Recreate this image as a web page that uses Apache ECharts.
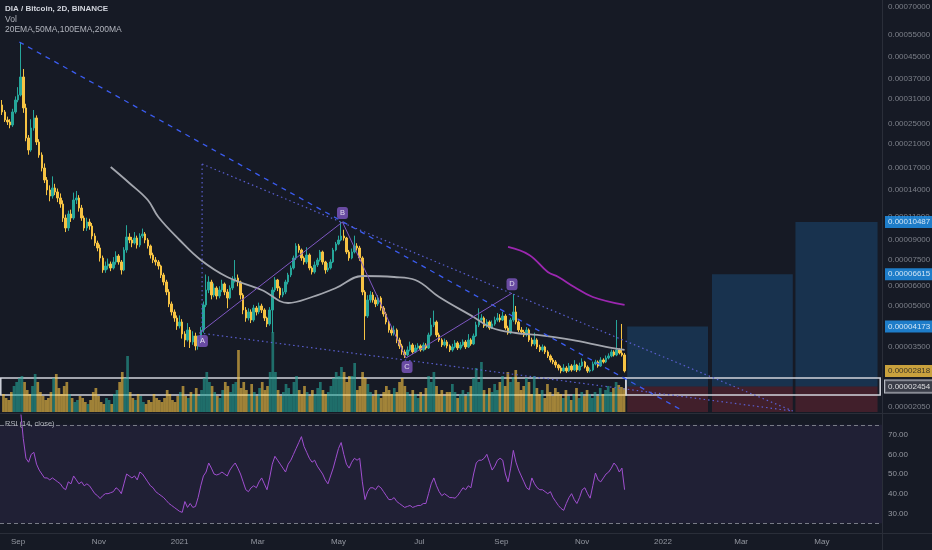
<!DOCTYPE html>
<html><head><meta charset="utf-8">
<script src="https://cdn.jsdelivr.net/npm/echarts@6/dist/echarts.min.js"></script>
<style>html,body{margin:0;padding:0;background:#161a25;}#c{width:932px;height:550px;}</style>
</head><body><div id="c"></div>
<script>
// prices in satoshi (1e-8 BTC); 2-day candles starting 2020-08-20
const startDate = '2020-08-20';
const firstOpen = 29480;
const closes = [
27710,25820,25370,24710,27710,30800,32200,37740,28710,22030,
19810,24060,26290,21260,18960,16900,15200,13920,13200,14170,
13680,12970,12300,10870,9952,11260,10870,12740,12970,11870,
10870,9952,10490,10130,9274,8717,8342,7637,6870,7117,
7244,6992,7372,7773,7372,6870,8196,9192,8951,8717,
9110,8566,9274,9440,8951,8491,7842,7503,7372,7117,
6573,6180,5657,5089,4742,4497,4191,4341,3905,3704,
4045,3639,3837,3513,3704,4045,5044,5758,6180,5510,
5860,5461,5758,6071,5657,5365,5860,6290,6402,6180,
5510,4826,4497,4742,4418,4912,4742,5000,4826,4497,
4266,4826,5758,6290,5860,5510,5657,6180,6573,6992,
7637,8491,8196,7637,7372,7842,6992,6750,7180,7503,
8053,7372,6870,6992,7372,8196,8640,8951,9274,9110,
8053,7637,8053,8491,8342,7637,5657,4577,5271,5510,
5271,5089,5365,4912,4659,4341,4045,3939,4045,3704,
3513,3332,3245,3391,3544,3332,3451,3513,3391,3544,
3451,3871,4228,4341,3871,3704,3544,3639,3513,3391,
3482,3607,3451,3544,3639,3482,3704,3576,3837,4228,
4418,4497,4191,4341,4117,4266,4418,4497,4418,4577,
4117,3939,4418,4742,4341,4045,3974,3871,4045,3704,
3576,3704,3482,3391,3482,3332,3216,3104,3050,2970,
2893,2817,2893,2817,2944,2842,2970,2842,2944,3050,
2918,2817,2842,2996,3050,2944,3104,3050,3159,3216,
3332,3245,3391,3302,3245,2818];
const highs = [
30800,28200,26600,26000,28500,31800,34500,51400,40500,29800,
22600,26000,28200,26900,21800,19400,17600,15600,14500,15700,
14700,14100,13500,12700,11200,11600,11700,13600,13800,13300,
12200,11100,10900,10800,10400,9500,8900,8600,7800,7400,
7600,7400,7700,8100,7900,7500,8400,10200,9500,9200,
9600,9300,9500,9900,9600,9100,8600,8000,7700,7500,
7200,6700,6300,5800,5200,4850,4600,4600,4450,4000,
4300,4150,4000,3950,3850,4150,5200,6600,6500,6300,
6100,5950,5950,6300,6150,5800,6000,6500,7500,6600,
6250,5600,4950,4900,4850,5050,5000,5150,5100,4900,
4550,4950,5900,6450,6350,5950,5850,6300,6700,7150,
7800,8700,8650,8300,7750,8400,7950,7100,7400,7650,
8200,8150,7450,7300,7550,8350,8800,9300,10500,9800,
9200,8200,8300,9300,8700,8500,7750,5750,5500,5700,
5650,5400,5500,5450,5000,4750,4400,4150,4200,4100,
3780,3580,3400,3500,3650,3600,3550,3600,3560,3620,
3600,3950,4500,4800,4400,3950,3760,3750,3700,3560,
3580,3700,3660,3640,3720,3700,3900,3760,3920,4350,
4900,4650,4560,4450,4400,4400,4550,4700,4650,4750,
4650,4200,4500,5560,5000,4400,4150,4050,4150,4100,
3780,3950,3760,3550,3560,3520,3380,3260,3160,3100,
3000,2950,2990,2940,3020,2990,3100,3000,3030,3150,
3080,2960,2900,3060,3110,3090,3180,3150,3230,3290,
3400,3380,4418,3440,4266,3300];
const lows = [
26990,25370,24700,24000,24300,27300,30200,31800,27500,21400,
19000,19500,23500,20700,18500,16400,14800,13300,12600,12900,
13300,12500,11900,10500,9600,9700,10500,10700,12300,11500,
10600,9700,9700,9800,9000,8500,8100,7400,6700,6700,
6900,6800,6900,7200,7200,6600,6800,8000,8700,8400,
8600,8300,8400,9100,8700,8300,7600,7300,7150,6900,
6400,6000,5500,4950,4600,4350,4050,4100,3750,3480,
3650,3450,3550,3380,3400,3600,3950,4950,5600,5300,
5400,5300,5350,5650,5500,4900,5300,5750,6150,5950,
5300,4650,4350,4400,4300,4350,4600,4650,4700,4380,
4150,4200,3950,5650,5700,5350,5400,5550,6050,6450,
6900,7500,8000,7450,7200,7250,6850,6600,6650,7050,
7400,7200,6650,6750,6900,7300,8100,8550,8850,8900,
7900,7450,7550,7950,8150,7450,5500,3704,4500,5150,
5150,4950,5000,4800,4550,4250,3950,3850,3850,3600,
3420,3250,3160,3200,3350,3280,3300,3400,3340,3350,
3400,3420,3820,4150,3800,3640,3480,3500,3440,3330,
3340,3440,3390,3400,3500,3420,3450,3520,3540,3800,
4150,4350,4120,4130,4050,4080,4200,4350,4330,4380,
4050,3880,3900,4350,4250,3970,3900,3800,3820,3640,
3500,3520,3420,3330,3340,3270,3160,3040,2990,2900,
2830,2760,2790,2770,2790,2800,2820,2790,2810,2920,
2880,2770,2780,2810,2960,2900,2920,3010,3020,3120,
3180,3200,3210,3260,3200,2780];
const volumes = [
18,14,12,20,26,30,34,36,30,22,
18,26,38,30,20,16,12,14,20,34,
38,24,18,26,30,18,14,10,12,16,
14,10,8,12,20,24,16,10,8,14,
12,8,18,22,30,40,34,56,20,14,
12,18,16,10,8,12,10,18,14,12,
10,14,22,18,12,10,16,20,26,16,
14,20,18,24,16,22,34,40,30,26,
20,16,14,22,30,26,20,28,30,62,
24,30,22,18,28,20,16,24,30,22,
26,40,80,40,22,16,20,28,24,18,
30,36,22,18,26,20,16,22,18,24,
30,22,18,20,26,34,40,36,45,40,
30,36,36,49,22,26,40,34,28,20,
16,22,18,14,20,26,22,18,24,20,
30,34,26,20,16,22,18,14,20,16,
24,36,30,40,26,18,22,16,20,20,
28,20,14,18,22,16,20,26,34,44,
30,50,22,18,24,20,28,22,30,36,
26,40,30,35,42,30,22,26,34,30,
18,36,24,18,22,14,28,20,16,24,
20,18,14,22,16,12,18,24,14,20,
16,22,18,14,20,16,24,18,22,26,
20,24,30,27,25,24];
const rsi = [
null,null,null,null,null,null,null,82,68,58,
56,60,61,55,52,50,48,48,47,48,
47,46,45,43,42,46,45,49,47,45,
46,44,45,44,42,40,39,37.5,39,40,
40,40.5,41,43,42,40,45,50,49,48,
49,47,51,50,48,46,44,43,41,40,
39,38,36.5,35,34,33,32,31,30.5,36,
33,35,33,33.5,38,44,49,51,55.6,53,
50,49.5,50,51,50,49,52,54,55.6,53,
50,46,42,41,43,44,43,46,48,45,
42,48,55,59,57,55,53,51,55,57,
60,63,66,69,64,61,58,56,57,54,
52,50,47,45,49,53,58,63,66,60,
55,53,56,58,57,58,46,37,41,43,
43,42,44,43,41,39,37,37,38,36,
35,34,33,33.5,34,33,33.5,34,34,35,
35,40,45,48,44,41,39,40,39,38,
38,37.7,39,41,43,42,44,43,50,55.6,
57,57,58,60,56,52,54,57,58,57,
50,46,53,62,56,52,49,46,43,42,
48,45,43,42,42,41,40,41,38,36,
34,32.5,31.5,35,38,40,37,35,38,42,
43,40,37.7,44,50.5,47,46,48,50,51,
53,55.6,54,51,53,42];
// moving averages: [candle index, value]
const ma50 = [[41,17050],[48,14810],[55,12740],[59,10965],[67,8951],[75,7503],[85,6458],[98,5758],[108,5134],[117,5413],[126,5860],[136,6515],[148,6458],[156,6290],[165,5413],[178,4537],[185,4117],[194,3939],[202,3871],[215,3704],[228,3482],[235,3391]];
const ma200 = [[191,8416],[199,7842],[206,6750],[210,6458],[216,5913],[223,5413],[235,5044]];
// drawings
const dashedTrend = [['2020-09-02',51400],['2022-01-15',1996]];
const wedgeUpper = [['2021-01-18',17510],['2022-04-09',1978]];
const wedgeLower = [['2021-01-16',3939],['2022-04-09',1978]];
const wedgeVertical = [['2021-01-18',17510],['2021-01-18',3871]];
const abcdPoints = [['2021-01-16',3939],['2021-05-04',10490],['2021-06-21',3159],['2021-09-09',5600]];
const abcdNames = ['A','B','C','D'];
// position tool
const entryPrice = 2454, stopPrice = 1960, lastPrice = 2818;
const targets = [4173, 6615, 10487];
const targetRanges = [['2021-12-05','2022-02-04'],['2022-02-07','2022-04-09'],['2022-04-11','2022-06-12']];
const zoneBox = [2647, 2278];
const zoneRanges = [['2020-08-19','2021-12-04'],['2021-12-04','2022-06-14']];
// axis ticks
const priceTicks = [70000,55000,45000,37000,31000,25000,21000,17000,14000,11000,9000,7500,6000,5000,3500,2050];
const monthTicks = ['2020-09-01','2020-11-01','2021-01-01','2021-03-01','2021-05-01','2021-07-01','2021-09-01','2021-11-01','2022-01-01','2022-03-01','2022-05-01'];
const monthNames = ['Jan','Feb','Mar','Apr','May','Jun','Jul','Aug','Sep','Oct','Nov','Dec'];

const DAY = 86400000;
const T = s => new Date(s).getTime();
const t0 = T(startDate);
const dates = closes.map((_, i) => t0 + i * 2 * DAY);
const opens = [firstOpen].concat(closes.slice(0, -1));
const candles = closes.map((c, i) => [dates[i], opens[i], c, lows[i], highs[i]]);
const UP = '#26a69a', DOWN = '#f6c343';
const volData = volumes.map((v, i) => ({value: [dates[i], v], itemStyle: {color: closes[i] >= opens[i] ? 'rgba(38,166,154,0.6)' : 'rgba(246,195,67,0.62)'}}));
const rsiData = rsi.map((v, i) => [dates[i], v]).filter(d => d[1] != null);
const xMin = T('2020-09-01') - 13.59 * DAY;
const xMax = T('2022-01-01') + 165.36 * DAY;
const fmt = v => (v / 1e8).toFixed(8);
const toPts = arr => arr.map(p => [T(p[0]), p[1]]);
const monthLabel = v => { const d = new Date(v); return d.getUTCMonth() === 0 ? String(d.getUTCFullYear()) : monthNames[d.getUTCMonth()]; };

// right price scale: plain ticks and coloured price tags, anchored at the right edge of the price pane
const tagPad = [2, 3, 2, 3];
const scaleItems = [];
priceTicks.forEach(v => scaleItems.push({value: [xMax, v], label: {color: '#9598a1', distance: 6}}));
targets.forEach(v => scaleItems.push({value: [xMax, v], label: {color: '#ffffff', backgroundColor: '#2196f3', padding: tagPad, distance: 3}}));
scaleItems.push({value: [xMax, lastPrice], label: {color: '#131722', backgroundColor: '#f6c343', padding: tagPad, distance: 3}});
scaleItems.push({value: [xMax, entryPrice], label: {color: '#ffffff', backgroundColor: '#434651', borderColor: '#e0e3eb', borderWidth: 1, padding: tagPad, distance: 3}});

const areas = [];
targetRanges.forEach((r, j) => {
  areas.push([{xAxis: T(r[0]), yAxis: entryPrice, itemStyle: {color: 'rgba(33,150,243,0.2)'}}, {xAxis: T(r[1]), yAxis: targets[j]}]);
  areas.push([{xAxis: T(r[0]), yAxis: entryPrice, itemStyle: {color: 'rgba(242,54,69,0.2)'}}, {xAxis: T(r[1]), yAxis: stopPrice}]);
});
zoneRanges.forEach(r => areas.push([{xAxis: T(r[0]), yAxis: zoneBox[0], itemStyle: {color: 'rgba(0,0,0,0)', borderColor: '#d1d4dc', borderWidth: 1.5}}, {xAxis: T(r[1]), yAxis: zoneBox[1]}]));

const labelMarkers = abcdPoints.map((p, i) => ({
  value: [T(p[0]), p[1]], name: abcdNames[i],
  symbolOffset: [[3, 8], [0, -9], [1, 9], [0, -9]][i]
}));

const lineStyleSeries = (name, pts, style, z) => ({
  name, type: 'line', xAxisIndex: 0, yAxisIndex: 0, data: toPts(pts), symbol: 'none',
  lineStyle: style, z, silent: true
});

const chart = echarts.init(document.getElementById('c'), null, {renderer: 'canvas'});
chart.setOption({
  backgroundColor: '#161a25',
  animation: false,
  textStyle: {fontFamily: 'Liberation Sans, Arial, sans-serif'},
  grid: [
    {left: 0, right: 50, top: 0, height: 413},
    {left: 0, right: 50, top: 300, height: 112},
    {left: 0, right: 50, top: 415, height: 118}
  ],
  xAxis: [
    {type: 'time', gridIndex: 0, min: xMin, max: xMax, show: false},
    {type: 'time', gridIndex: 1, min: xMin, max: xMax, show: false},
    {type: 'time', gridIndex: 2, min: xMin, max: xMax, show: false}
  ],
  yAxis: [
    {type: 'log', gridIndex: 0, min: 1944, max: 74460, position: 'right', axisLine: {show: false}, axisTick: {show: false}, axisLabel: {show: false}, splitLine: {show: false}},
    {type: 'value', gridIndex: 1, min: 0, max: 112, show: false},
    {type: 'value', gridIndex: 2, min: 20, max: 80, interval: 10, position: 'right',
      axisLine: {show: false}, axisTick: {show: false}, splitLine: {show: false},
      axisLabel: {color: '#9598a1', fontSize: 8, margin: 6, showMinLabel: false, showMaxLabel: false, formatter: v => v.toFixed(2)}}
  ],
  series: [
    {name: 'Vol', type: 'bar', xAxisIndex: 1, yAxisIndex: 1, data: volData, barWidth: 2.7, z: 1, silent: true},
    {name: 'DIA/BTC', type: 'candlestick', xAxisIndex: 0, yAxisIndex: 0, data: candles, barWidth: 2, z: 3,
      itemStyle: {color: UP, color0: DOWN, borderColor: UP, borderColor0: DOWN, borderWidth: 1},
      markArea: {silent: true, label: {show: false}, data: areas}},
    {name: '50MA', type: 'line', xAxisIndex: 0, yAxisIndex: 0, data: ma50.map(p => [dates[p[0]], p[1]]), smooth: 0.4, symbol: 'none', lineStyle: {color: '#a3a6ae', width: 1.8}, z: 4, silent: true},
    {name: '200MA', type: 'line', xAxisIndex: 0, yAxisIndex: 0, data: ma200.map(p => [dates[p[0]], p[1]]), smooth: 0.4, symbol: 'none', lineStyle: {color: '#9c27b0', width: 1.8}, z: 4, silent: true},
    lineStyleSeries('trend', dashedTrend, {color: '#3b5cf0', width: 1.3, type: [5, 5]}, 5),
    lineStyleSeries('upper', wedgeUpper, {color: '#5a5fd0', width: 1.2, type: [1.5, 3]}, 5),
    lineStyleSeries('lower', wedgeLower, {color: '#5a5fd0', width: 1.2, type: [1.5, 3]}, 5),
    lineStyleSeries('vert', wedgeVertical, {color: '#5a5fd0', width: 1.2, type: [1.5, 3]}, 5),
    lineStyleSeries('abcd', abcdPoints, {color: '#7e57c2', width: 1}, 6),
    {name: 'labels', type: 'scatter', xAxisIndex: 0, yAxisIndex: 0, data: labelMarkers, symbol: 'roundRect', symbolSize: [11, 12],
      itemStyle: {color: '#7e57c2'}, z: 7, silent: true,
      label: {show: true, position: 'inside', formatter: p => p.name, color: '#ffffff', fontSize: 7.5}},
    {name: 'priceScale', type: 'scatter', xAxisIndex: 0, yAxisIndex: 0, clip: false, silent: true, symbolSize: 0, z: 12,
      data: scaleItems,
      label: {show: true, position: 'right', fontSize: 8, formatter: p => fmt(p.value[1])}},
    {name: 'RSI', type: 'line', xAxisIndex: 2, yAxisIndex: 2, data: rsiData, symbol: 'none', lineStyle: {color: '#a04fd0', width: 1}, z: 3, silent: true,
      markArea: {silent: true, itemStyle: {color: 'rgba(126,87,194,0.1)'}, data: [[{yAxis: 75}, {yAxis: 25}]]},
      markLine: {silent: true, symbol: ['none', 'none'], label: {show: false}, lineStyle: {color: '#787b86', type: [4, 3], width: 1}, data: [{yAxis: 75}, {yAxis: 25}]}},
    {name: 'months', type: 'scatter', xAxisIndex: 2, yAxisIndex: 2, clip: false, silent: true, symbolSize: 0,
      data: monthTicks.map(m => [T(m), 20]),
      label: {show: true, position: 'bottom', distance: 5, color: '#b2b5be', fontSize: 8, formatter: p => monthLabel(p.value[0])}}
  ],
  graphic: [
    {type: 'rect', shape: {x: 0, y: 413, width: 932, height: 1}, style: {fill: '#2a2e39'}, z: 10, silent: true},
    {type: 'rect', shape: {x: 0, y: 533, width: 932, height: 1}, style: {fill: '#2a2e39'}, z: 10, silent: true},
    {type: 'rect', shape: {x: 882, y: 0, width: 1, height: 550}, style: {fill: '#2a2e39'}, z: 10, silent: true},
    {type: 'text', left: 5, top: 5, style: {text: 'DIA / Bitcoin, 2D, BINANCE', fill: '#d1d4dc', font: 'bold 8px Liberation Sans, Arial, sans-serif'}, z: 10},
    {type: 'text', left: 5, top: 15, style: {text: 'Vol', fill: '#b2b5be', font: '8.5px Liberation Sans, Arial, sans-serif'}, z: 10},
    {type: 'text', left: 5, top: 25, style: {text: '20EMA,50MA,100EMA,200MA', fill: '#b2b5be', font: '8.5px Liberation Sans, Arial, sans-serif'}, z: 10},
    {type: 'text', left: 5, top: 420, style: {text: 'RSI (14, close)', fill: '#b2b5be', font: '7.5px Liberation Sans, Arial, sans-serif'}, z: 10}
  ]
});
</script>
</body></html>
